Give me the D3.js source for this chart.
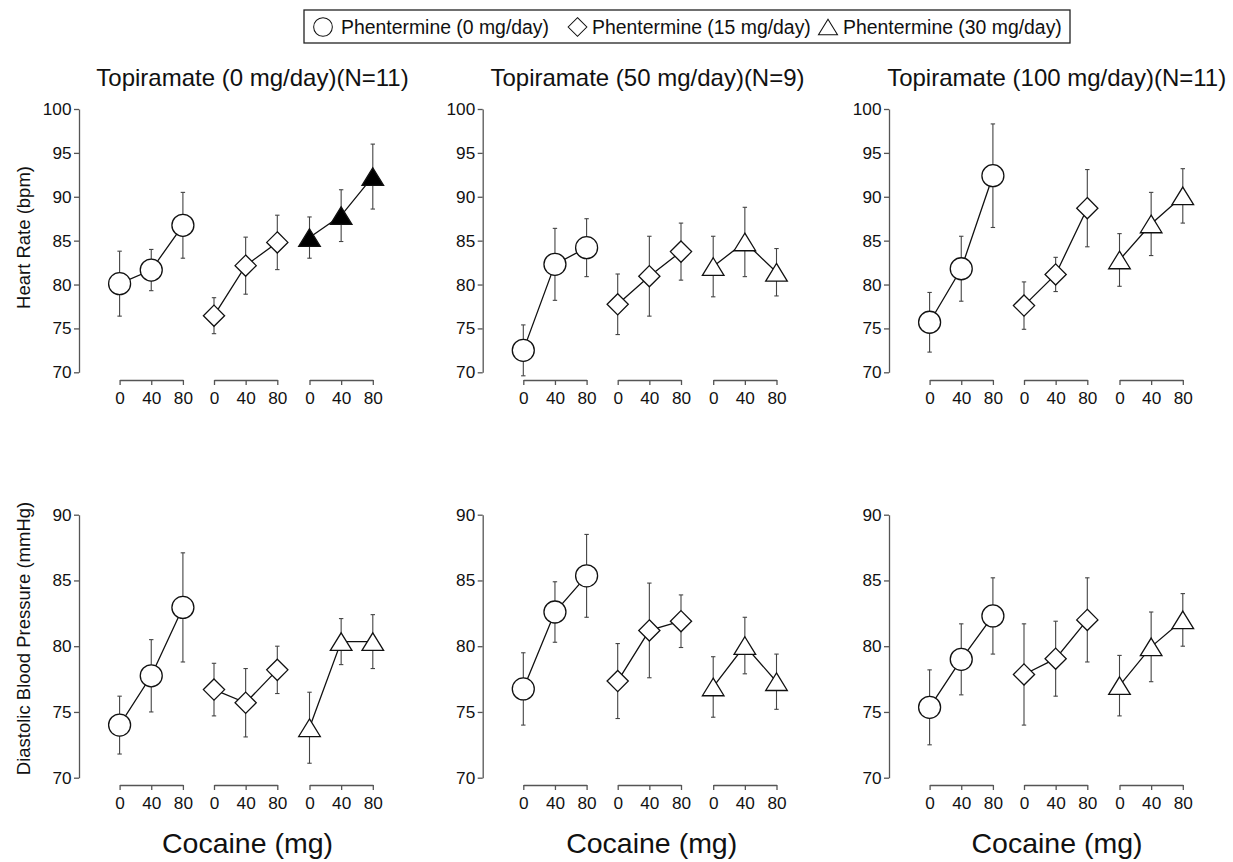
<!DOCTYPE html>
<html>
<head>
<meta charset="utf-8">
<script src="https://cdn.jsdelivr.net/npm/d3@7"></script>
<style>
  body { margin: 0; background: #fff; }
  svg { display: block; font-family: "Liberation Sans", Arial, Helvetica, sans-serif; }
</style>
</head>
<body>
<svg id="chart" width="1233" height="862"></svg>
<script>
// ---------------- DATA ----------------
const topiramateTitles = ["Topiramate (0 mg/day)(N=11)", "Topiramate (50 mg/day)(N=9)", "Topiramate (100 mg/day)(N=11)"];
const phentermineLabels = ["Phentermine (0 mg/day)", "Phentermine (15 mg/day)", "Phentermine (30 mg/day)"];
const cocaineDoses = [0, 40, 80];
const hrTicks = [70, 75, 80, 85, 90, 95, 100];
const dbpTicks = [70, 75, 80, 85, 90];
const yLabels = ["Heart Rate (bpm)", "Diastolic Blood Pressure (mmHg)"];
const xLabel = "Cocaine (mg)";

// Heart rate: rows = phentermine 0/15/30, cols = cocaine 0/40/80
const hrMeanT0   = [[80.1, 81.65, 86.75], [76.45, 82.15, 84.8], [85.35, 87.85, 92.3]];
const hrSemT0    = [[3.7, 2.35, 3.75], [2.05, 3.25, 3.1], [2.35, 2.95, 3.7]];
const hrMeanT50  = [[72.5, 82.3, 84.2], [77.75, 80.95, 83.75], [82.05, 84.85, 81.4]];
const hrSemT50   = [[2.9, 4.1, 3.3], [3.45, 4.55, 3.25], [3.45, 3.95, 2.7]];
const hrMeanT100 = [[75.7, 81.8, 92.4], [77.6, 81.15, 88.7], [82.8, 86.9, 90.1]];
const hrSemT100  = [[3.4, 3.7, 5.9], [2.7, 1.95, 4.4], [3.0, 3.6, 3.1]];

// Diastolic blood pressure
const dbpMeanT0   = [[74.0, 77.75, 82.95], [76.7, 75.7, 78.2], [73.8, 80.35, 80.35]];
const dbpSemT0    = [[2.2, 2.75, 4.15], [2.0, 2.6, 1.8], [2.7, 1.75, 2.05]];
const dbpMeanT50  = [[76.75, 82.6, 85.35], [77.35, 81.2, 81.9], [76.9, 80.05, 77.3]];
const dbpSemT50   = [[2.75, 2.3, 3.15], [2.85, 3.6, 2.0], [2.3, 2.15, 2.1]];
const dbpMeanT100 = [[75.35, 79.0, 82.3], [77.85, 79.05, 82.0], [77.0, 79.95, 82.0]];
const dbpSemT100  = [[2.85, 2.7, 2.9], [3.85, 2.85, 3.2], [2.3, 2.65, 2.0]];

// filled (significant) series: [row, topiramate index, phentermine index]
const filledSeries = [[0, 0, 2]];

// ---------------- LAYOUT ----------------
const svg = d3.select("#chart");
const axisX = [79, 482.7, 889];
const groupOffsets = [40.6, 135, 230.5];
const groupWidth = 63.3;
const rows = [
  { ticks: hrTicks, domain: [70, 100], range: [372.3, 109], xAxisY: 380, means: [hrMeanT0, hrMeanT50, hrMeanT100], sems: [hrSemT0, hrSemT50, hrSemT100] },
  { ticks: dbpTicks, domain: [70, 90], range: [777.7, 514.7], xAxisY: 785, means: [dbpMeanT0, dbpMeanT50, dbpMeanT100], sems: [dbpSemT0, dbpSemT50, dbpSemT100] }
];
const axisColor = "#555";
const titleX = [252.5, 647.5, 1056.7];
const cocaineX = [247.5, 651.7, 1057];
const tickFont = 17.2;

function markerPath(kind) {
  if (kind === 0) return d3.symbol(d3.symbolCircle, Math.PI * 11 * 11)();
  if (kind === 1) { const h = 10.6; return `M0,${-h}L${h},0L0,${h}L${-h},0Z`; }
  const w = 10.8, hh = 8.8; return `M0,${-hh}L${w},${hh}L${-w},${hh}Z`;
}

rows.forEach((row, ri) => {
  const y = d3.scaleLinear().domain(row.domain).range(row.range);
  axisX.forEach((ax, ti) => {
    const g = svg.append("g");
    // y axis
    const yAxis = d3.axisLeft(y).tickValues(row.ticks).tickSize(5).tickSizeOuter(0).tickPadding(2.5);
    const ya = g.append("g").attr("transform", `translate(${ax},0)`).call(yAxis)
      .attr("font-size", tickFont).attr("font-family", "Liberation Sans, Arial, sans-serif");
    ya.selectAll("path,line").attr("stroke", axisColor).attr("stroke-width", 1.3);
    ya.selectAll("text").attr("fill", "#111");

    for (let pi = 0; pi < 3; pi++) {
      const x0 = ax + groupOffsets[pi];
      const x = d3.scaleLinear().domain([0, 80]).range([x0, x0 + groupWidth]);
      const xAxis = d3.axisBottom(x).tickValues(cocaineDoses).tickSize(5).tickSizeOuter(0).tickPadding(6.5).tickFormat(d3.format("d"));
      const xa = g.append("g").attr("transform", `translate(0,${row.xAxisY})`).call(xAxis)
        .attr("font-size", tickFont).attr("font-family", "Liberation Sans, Arial, sans-serif");
      xa.selectAll("path,line").attr("stroke", axisColor).attr("stroke-width", 1.3);
      xa.selectAll("text").attr("fill", "#111");

      const means = row.means[ti][pi];
      const sems = row.sems[ti][pi];
      const pts = cocaineDoses.map((d, k) => ({ dose: d, m: means[k], s: sems[k] }));
      const filled = filledSeries.some(f => f[0] === ri && f[1] === ti && f[2] === pi);

      // error bars
      const eb = g.append("g").attr("stroke", "#444").attr("stroke-width", 1.1).attr("fill", "none");
      pts.forEach(p => {
        const cx = x(p.dose), yt = y(p.m + p.s), yb = y(p.m - p.s);
        eb.append("line").attr("x1", cx).attr("x2", cx).attr("y1", yt).attr("y2", yb);
        eb.append("line").attr("x1", cx - 2.2).attr("x2", cx + 2.2).attr("y1", yt).attr("y2", yt);
        eb.append("line").attr("x1", cx - 2.2).attr("x2", cx + 2.2).attr("y1", yb).attr("y2", yb);
      });
      // connecting line
      g.append("path").datum(pts)
        .attr("d", d3.line().x(p => x(p.dose)).y(p => y(p.m)))
        .attr("fill", "none").attr("stroke", "#111").attr("stroke-width", 1.3);
      // markers
      g.selectAll(null).data(pts).join("path")
        .attr("transform", p => `translate(${x(p.dose)},${y(p.m)})`)
        .attr("d", markerPath(pi))
        .attr("fill", filled ? "#000" : "#fff")
        .attr("stroke", "#111").attr("stroke-width", 1.3);
    }

    if (ri === 0) {
      svg.append("text").attr("x", titleX[ti]).attr("y", 86).attr("text-anchor", "middle")
        .attr("font-size", 24).attr("fill", "#111").text(topiramateTitles[ti]);
    } else {
      svg.append("text").attr("x", cocaineX[ti]).attr("y", 853).attr("text-anchor", "middle")
        .attr("font-size", 28.5).attr("fill", "#111").text(xLabel);
    }
  });
});

// y labels
svg.append("text").attr("transform", "translate(29.5,237.5) rotate(-90)").attr("text-anchor", "middle")
  .attr("font-size", 18.5).attr("fill", "#111").text(yLabels[0]);
svg.append("text").attr("transform", "translate(29.5,638.5) rotate(-90)").attr("text-anchor", "middle")
  .attr("font-size", 18.5).attr("fill", "#111").text(yLabels[1]);

// legend
const legend = svg.append("g");
legend.append("rect").attr("x", 304).attr("y", 10).attr("width", 766).attr("height", 33)
  .attr("fill", "#fff").attr("stroke", "#222").attr("stroke-width", 1.3);
const legendMarkX = [323, 577.5, 828];
const legendTextX = [341, 592, 843];
phentermineLabels.forEach((lab, i) => {
  const s = i === 0 ? 0.85 : 0.88;
  legend.append("path").attr("d", markerPath(i)).attr("transform", `translate(${legendMarkX[i]},27) scale(${s})`)
    .attr("fill", "#fff").attr("stroke", "#111").attr("stroke-width", 1.2);
  legend.append("text").attr("x", legendTextX[i]).attr("y", 33.8).attr("font-size", 19.4).attr("fill", "#111").text(lab);
});
</script>
</body>
</html>
